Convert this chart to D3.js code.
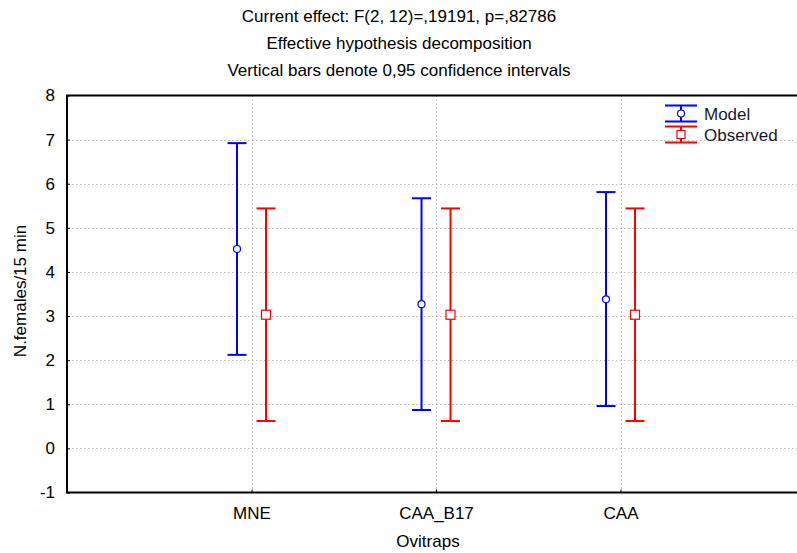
<!DOCTYPE html>
<html><head><meta charset="utf-8">
<script src="https://cdn.jsdelivr.net/npm/d3@7/dist/d3.min.js"></script>
<style>body{margin:0;background:#fff;overflow:hidden}svg{display:block}text{font-family:"Liberation Sans",Arial,sans-serif;fill:#000}</style>
</head><body>
<script>
const categories = ["MNE", "CAA_B17", "CAA"];
const modelMean = [4.52, 3.27, 3.38];
const modelLow = [2.12, 0.87, 0.96];
const modelHigh = [6.92, 5.67, 5.81];
const obsMean = [3.03, 3.03, 3.03];
const obsLow = [0.62, 0.62, 0.62];
const obsHigh = [5.44, 5.44, 5.44];
const yTicks = [-1, 0, 1, 2, 3, 4, 5, 6, 7, 8];
const titles = ["Current effect: F(2, 12)=,19191, p=,82786", "Effective hypothesis decomposition", "Vertical bars denote 0,95 confidence intervals"];
const seriesNames = ["Model", "Observed"];

const W = 797, H = 553;
const pL = 67, pR = 805, pT = 95.5, pB = 492.5;
const svg = d3.select("body").append("svg").attr("width", W).attr("height", H);

const x = d3.scaleLinear().domain([0, 4]).range([pL, pR]);
const y = d3.scaleLinear().domain([-1, 8]).range([pB, pT]);

// titles
svg.selectAll("text.title").data(titles).join("text").attr("class", "title")
  .attr("x", 399).attr("y", (d, i) => 22 + i * 27).attr("text-anchor", "middle")
  .style("font-size", "17px").text(d => d);

// gridlines
const grid = svg.append("g").attr("stroke", "#b8b8b8").attr("stroke-dasharray", "1.5,2.5").attr("stroke-width", 1);
grid.selectAll("line.h").data(yTicks.filter(t => t > -1 && t < 8)).join("line")
  .attr("x1", pL + 5).attr("x2", pR).attr("y1", d => Math.round(y(d)) + 0.5).attr("y2", d => Math.round(y(d)) + 0.5);
grid.selectAll("line.v").data(categories).join("line")
  .attr("y1", pT).attr("y2", pB).attr("x1", (d, i) => Math.round(x(i + 1)) + 0.5).attr("x2", (d, i) => Math.round(x(i + 1)) + 0.5);

// y axis
const yAxis = d3.axisLeft(y).tickValues(yTicks).tickSize(-3).tickPadding(12).tickFormat(d => String(d));
const ya = svg.append("g").attr("transform", `translate(${pL},0)`).call(yAxis);
ya.select(".domain").remove();
ya.selectAll("text").style("font-size", "17px").style("font-family", "Liberation Sans, Arial, sans-serif");
ya.selectAll("line").attr("stroke", "#000");

// x axis
const xAxis = d3.axisBottom(x).tickValues([1, 2, 3]).tickSize(-3).tickPadding(14).tickFormat(d => categories[d - 1]);
const xa = svg.append("g").attr("transform", `translate(0,${pB})`).call(xAxis);
xa.select(".domain").remove();
xa.selectAll("text").style("font-size", "17px").style("font-family", "Liberation Sans, Arial, sans-serif");
xa.selectAll("line").attr("stroke", "#000");

// frame
svg.append("rect").attr("x", pL).attr("y", pT).attr("width", pR - pL).attr("height", pB - pT)
  .attr("fill", "none").attr("stroke", "#000").attr("stroke-width", 2);

// axis titles
svg.append("text").attr("x", 428).attr("y", 547).attr("text-anchor", "middle").style("font-size", "17px").text("Ovitraps");
svg.append("text").attr("transform", "translate(26,291) rotate(-90)").attr("text-anchor", "middle").style("font-size", "17px").text("N.females/15 min");

// error bars
function drawSeries(mean, low, high, dx, color, marker) {
  const g = svg.append("g").attr("stroke", color).attr("stroke-width", 2);
  categories.forEach((c, i) => {
    const cx = x(i + 1) + dx;
    g.append("line").attr("x1", cx).attr("x2", cx).attr("y1", y(high[i])).attr("y2", y(low[i]));
    g.append("line").attr("x1", cx - 9.5).attr("x2", cx + 9.5).attr("y1", y(high[i])).attr("y2", y(high[i]));
    g.append("line").attr("x1", cx - 9.5).attr("x2", cx + 9.5).attr("y1", y(low[i])).attr("y2", y(low[i]));
    if (marker === "circle") {
      g.append("circle").attr("cx", cx).attr("cy", y(mean[i])).attr("r", 3.5).attr("fill", "#fff").attr("stroke-width", 1.2);
    } else {
      g.append("rect").attr("x", cx - 4.5).attr("y", y(mean[i]) - 4.5).attr("width", 9).attr("height", 9).attr("fill", "#fff").attr("stroke-width", 1.2);
    }
  });
}
drawSeries(modelMean, modelLow, modelHigh, -14.5, "#0000ff", "circle");
drawSeries(obsMean, obsLow, obsHigh, 14.5, "#ff0000", "rect");

// legend
const legend = [
  { name: seriesNames[0], color: "#0000ff", marker: "circle", cy: 113.5 },
  { name: seriesNames[1], color: "#ff0000", marker: "rect", cy: 134.5 }
];
legend.forEach(l => {
  const g = svg.append("g").attr("stroke", l.color).attr("stroke-width", 2);
  const cx = 681;
  g.append("line").attr("x1", cx - 16).attr("x2", cx + 16).attr("y1", l.cy - 8).attr("y2", l.cy - 8);
  g.append("line").attr("x1", cx - 16).attr("x2", cx + 16).attr("y1", l.cy + 8).attr("y2", l.cy + 8);
  g.append("line").attr("x1", cx).attr("x2", cx).attr("y1", l.cy - 8).attr("y2", l.cy + 8);
  if (l.marker === "circle") g.append("circle").attr("cx", cx).attr("cy", l.cy).attr("r", 3.5).attr("fill", "#fff").attr("stroke-width", 1.2);
  else g.append("rect").attr("x", cx - 4).attr("y", l.cy - 4).attr("width", 8).attr("height", 8).attr("fill", "#fff").attr("stroke-width", 1.2);
  svg.append("text").attr("x", 704).attr("y", l.cy + 6).style("font-size", "17px").style("fill", "#1a1a2e").text(l.name);
});
</script>
</body></html>
